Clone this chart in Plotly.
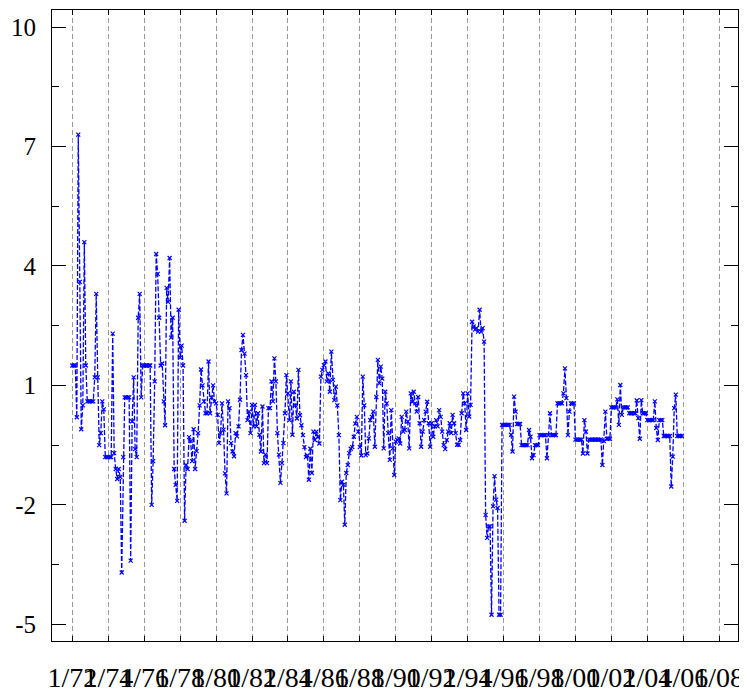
import pandas as pd
import plotly.graph_objects as go

# monthly values, Jan 1972 .. Dec 2005 (one list per year)
y1972 = [1.5, 1.5, 1.5, 0.2, 7.3, 3.6, -0.1, 0.5, 4.6, 1.5, 0.6, 0.6]
y1973 = [0.6, 0.6, 0.6, 1.2, 3.3, 1.2, -0.5, -0.2, 0.6, 0.4, -0.8, -0.8]
y1974 = [-0.8, -0.8, -0.8, 2.3, -0.7, -1.1, -1.35, -1.1, -1.3, -3.7, -0.8, 0.7]
y1975 = [0.7, 0.7, 0.7, -3.4, 0.1, 1.2, -0.6, -0.8, 2.7, 3.3, 0.7, 1.5]
y1976 = [1.5, 1.5, 1.5, 1.5, 1.5, -2.0, -0.9, 1.1, 4.3, 3.8, 2.7, 1.5]
y1977 = [1.55, 0.6, 0.0, 3.45, 3.1, 4.2, 2.2, 2.7, -1.1, -1.5, -1.9, 2.9]
y1978 = [1.7, 2.0, 1.5, -2.4, -1.0, -1.1, -0.3, -0.4, -0.9, -0.1, -1.1, -0.65]
y1979 = [-0.2, 0.5, 1.4, 1.0, 0.6, 0.3, 0.3, 1.6, 0.3, 0.7, 1.0, 0.6]
y1980 = [0.55, 0.26, -0.45, -0.2, 0.55, -0.11, -1.21, -1.71, 0.6, 0.43, -0.45, -0.66]
y1981 = [-0.78, -0.2, -0.28, -0.03, 0.64, 1.89, 2.27, 1.8, 1.26, 0.13, 0.34, -0.2]
y1982 = [0.51, -0.03, 0.51, -0.03, 0.3, -0.24, -0.66, 0.47, -0.95, -0.74, -0.95, 0.43]
y1983 = [0.43, 1.1, 0.6, 1.68, 1.1, -0.2, -0.74, -1.45, -0.95, -0.45, 0.3, 1.26]
y1984 = [0.8, 0.13, 1.1, -0.24, 0.84, 0.5, 0.17, 1.39, 0.25, 0.0, -0.25, -0.55]
y1985 = [-0.8, -0.76, -1.37, -0.59, -1.2, -0.16, -0.37, -0.16, -0.29, -0.46, 1.22, 1.39]
y1986 = [1.51, 1.6, 1.1, 1.3, 0.84, 1.85, 1.14, 0.63, 0.97, 0.5, -0.25, -1.88]
y1987 = [-1.42, -1.5, -2.5, -1.2, -1.0, -0.7, -0.59, -0.55, -0.29, 0.04, 0.21, -0.16]
y1988 = [-0.55, -0.76, 1.22, 0.5, -0.75, -0.71, -0.33, 0.13, 0.21, 0.34, -0.54, 0.71]
y1989 = [1.64, 1.05, 1.47, 1.17, -0.58, 0.84, 0.55, -0.2, -0.87, 0.38, -0.58, -1.25]
y1990 = [-0.41, -0.37, -0.33, -0.46, 0.21, -0.16, -0.12, 0.34, 0.09, -0.58, 0.8, 0.59]
y1991 = [0.84, 0.55, 0.34, 0.71, 0.05, -0.54, -0.16, 0.13, 0.34, 0.59, 0.05, -0.54]
y1992 = [0.05, -0.29, -0.03, 0.13, -0.03, 0.38, 0.21, -0.16, -0.5, -0.6, -0.37, -0.16]
y1993 = [0.05, -0.2, 0.26, 0.05, -0.2, -0.49, -0.49, -0.37, 0.3, 0.8, 0.55, -0.12]
y1994 = [0.8, 0.22, 0.51, 2.6, 2.48, 2.4, 2.44, 2.35, 2.9, 2.35, 2.44, 2.1]
y1995 = [-2.25, -2.83, -2.54, -2.54, -4.76, -2.04, -1.28, -1.87, -2.08, -4.76, -4.76, 0.01]
y1996 = [0.01, 0.01, 0.01, 0.01, 0.01, -0.24, -0.66, 0.72, 0.34, 0.03, 0.03, 0.03]
y1997 = [-0.5, -0.5, -0.5, -0.5, -0.5, -0.12, -0.29, -0.83, -0.75, -0.5, -0.5, -0.5]
y1998 = [-0.25, -0.25, -0.25, -0.25, -0.25, -0.83, -0.25, 0.3, -0.25, -0.25, -0.25, -0.25]
y1999 = [0.55, 0.55, 0.55, 0.55, 0.8, 1.43, 0.68, -0.25, 0.34, 0.55, 0.55, 0.55]
y2000 = [-0.36, -0.36, -0.36, -0.36, -0.36, -0.71, 0.13, -0.16, -0.71, -0.36, -0.36, -0.36]
y2001 = [-0.36, -0.36, -0.36, -0.36, -0.36, -0.36, -1.0, -0.4, 0.34, -0.34, -0.34, -0.34]
y2002 = [0.45, 0.45, 0.45, 0.45, 0.65, 0.01, 1.01, 0.26, 0.45, 0.45, 0.45, 0.45]
y2003 = [0.3, 0.3, 0.3, 0.3, 0.3, 0.62, 0.18, -0.34, 0.63, 0.3, 0.3, 0.3]
y2004 = [0.13, 0.13, 0.13, 0.13, 0.13, 0.6, -0.07, -0.37, 0.13, 0.13, 0.13, -0.27]
y2005 = [-0.27, -0.27, -0.27, -0.27, -1.54, -0.79, 0.43, 0.77, -0.27, -0.27, -0.27, -0.27]

years = [y1972, y1973, y1974, y1975, y1976, y1977, y1978, y1979, y1980,
         y1981, y1982, y1983, y1984, y1985, y1986, y1987, y1988, y1989,
         y1990, y1991, y1992, y1993, y1994, y1995, y1996, y1997, y1998,
         y1999, y2000, y2001, y2002, y2003, y2004, y2005]
values = [v for yr in years for v in yr]
dates = pd.date_range("1972-01-01", periods=len(values), freq="MS")

tick_dates = ["1972-01-01", "1974-01-01", "1976-01-01", "1978-01-01", "1980-01-01",
              "1982-01-01", "1984-01-01", "1986-01-01", "1988-01-01", "1990-01-01",
              "1992-01-01", "1994-01-01", "1996-01-01", "1998-01-01", "2000-01-01",
              "2002-01-01", "2004-01-01", "2006-01-01", "2008-01-01"]
tick_labels = ["1/72", "1/74", "1/76", "1/78", "1/80", "1/82", "1/84", "1/86", "1/88",
               "1/90", "1/92", "1/94", "1/96", "1/98", "1/00", "1/02", "1/04", "1/06", "1/08"]
y_ticks = [-5, -2, 1, 4, 7, 10]

fig = go.Figure()
fig.add_trace(go.Scatter(
    x=dates, y=values, mode="lines+markers",
    line=dict(color="#0000ff", width=1.3, dash="5px,2px"),
    marker=dict(symbol="x-thin", size=4, line=dict(color="#0000ff", width=1.2)),
    showlegend=False,
))

# the page body has an 8px margin, so the figure is sized/margined to land in place
fig.update_layout(
    width=739, height=687,
    margin=dict(l=44, r=9, t=2, b=54),
    plot_bgcolor="white", paper_bgcolor="white",
    font=dict(family="Liberation Serif", color="black"),
)
fig.update_xaxes(
    type="date", range=["1970-11-14", "2009-01-17"], automargin=False,
    tickvals=tick_dates, ticktext=tick_labels, tickangle=0,
    tickfont=dict(size=28, family="Liberation Serif"),
    ticks="inside", ticklen=5, tickcolor="black",
    showgrid=True, gridcolor="#9a9a9a", griddash="5px,3px", gridwidth=1,
    showline=True, linecolor="black", linewidth=1, mirror="allticks",
    zeroline=False, ticklabelstandoff=11,
)
fig.update_yaxes(
    range=[-5.42, 10.43], automargin=False,
    tickvals=y_ticks, ticktext=[str(t) for t in y_ticks],
    tickfont=dict(size=25, family="Liberation Serif"),
    ticks="inside", ticklen=14, tickcolor="black",
    minor=dict(dtick=1.5, tick0=-5, ticks="inside", ticklen=7, tickcolor="black", showgrid=False),
    showgrid=False, zeroline=False,
    showline=True, linecolor="black", linewidth=1, mirror="allticks",
    ticklabelstandoff=10,
)

fig.write_html("out.html")
